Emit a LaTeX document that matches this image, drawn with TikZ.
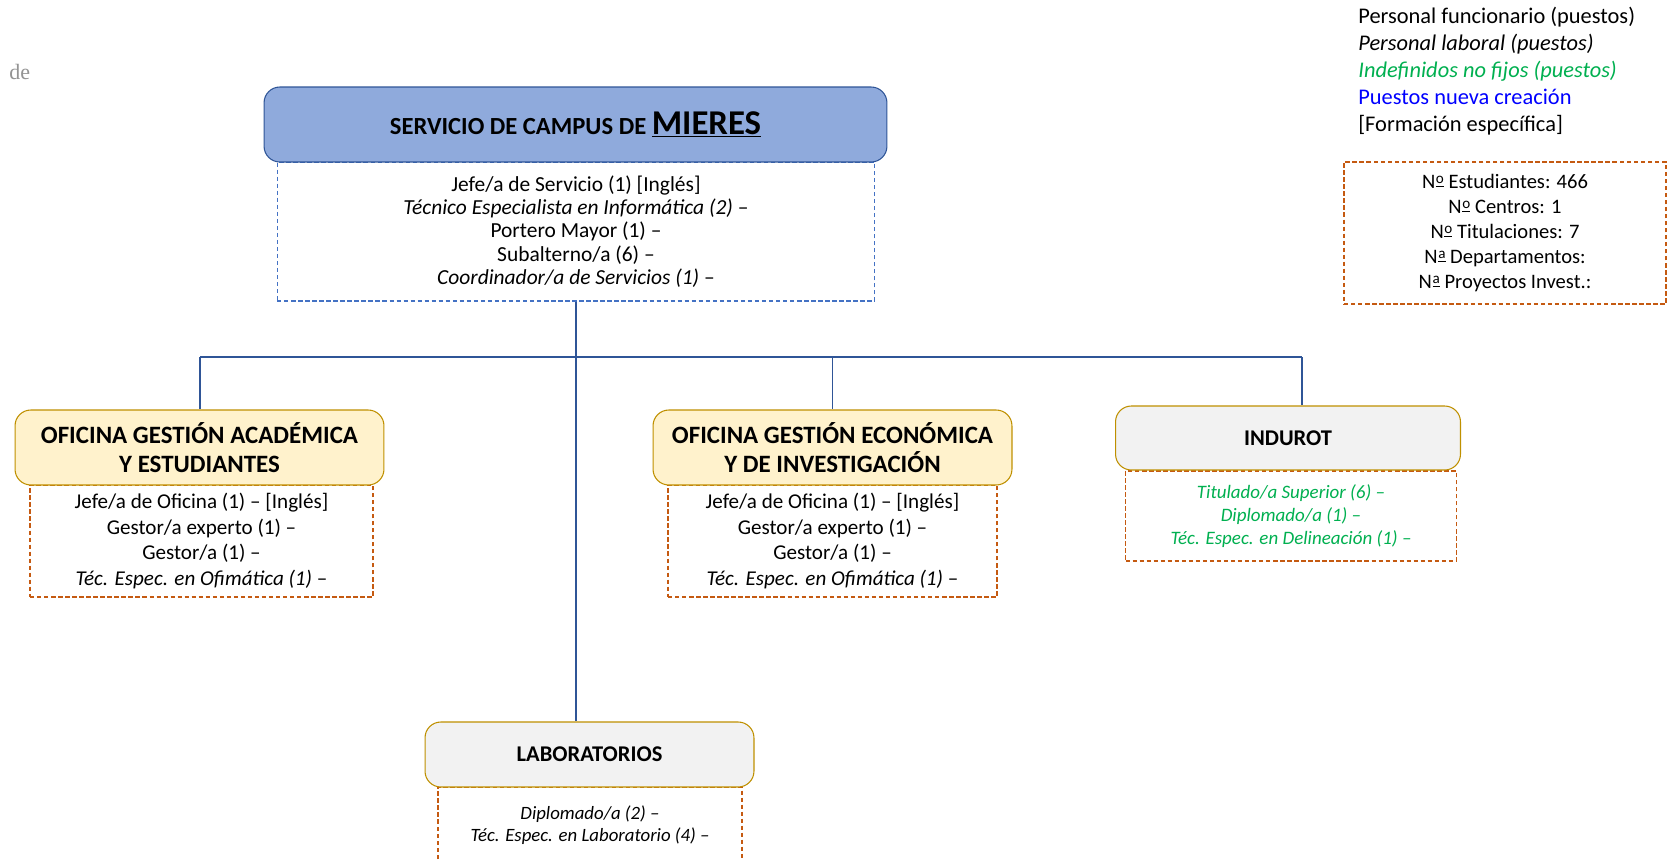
\documentclass[tikz,border=0pt]{standalone}
\usepackage{fontspec}
\setmainfont{Carlito}
\newfontfamily\cutserif{Liberation Serif}
\usetikzlibrary{positioning}
\definecolor{servfill}{RGB}{143,170,220}
\definecolor{servline}{RGB}{47,85,151}
\definecolor{officefill}{RGB}{255,242,204}
\definecolor{goldline}{RGB}{191,144,0}
\definecolor{unitfill}{RGB}{242,242,242}
\definecolor{staffblue}{RGB}{68,114,196}
\definecolor{stafforange}{RGB}{197,90,17}
\definecolor{indefgreen}{RGB}{0,176,80}
\definecolor{newblue}{RGB}{0,0,255}
\newcommand{\ordo}{N\kern0.4pt\raisebox{0.5ex}{\fontsize{8.6}{9}\selectfont\underline{o}}}
\newcommand{\orda}{N\kern0.4pt\raisebox{0.5ex}{\fontsize{8.6}{9}\selectfont\underline{a}}}
\begin{document}
\begin{tikzpicture}[
    x=0.02cm,
    y=-0.02cm,
    servbox/.style={draw=servline, fill=servfill, rounded corners=9pt, line width=0.6pt, minimum width=12.46cm, minimum height=1.5cm},
    officebox/.style={draw=goldline, fill=officefill, rounded corners=9pt, line width=0.6pt, minimum height=1.5cm, align=center, font=\fontsize{14.2}{16.5}\selectfont\bfseries},
    unitbox/.style={draw=goldline, fill=unitfill, rounded corners=9pt, line width=0.6pt, minimum height=1.3cm, font=\fontsize{12.8}{14}\selectfont\bfseries},
    staffbox/.style={draw=stafforange, line width=0.8pt, dash pattern=on 2.5pt off 1.5pt, align=center, inner sep=0pt, font=\fontsize{12}{14.5}\selectfont},
    smallstaff/.style={align=center, inner sep=0pt, font=\fontsize{10.7}{12.8}\selectfont\itshape},
    link/.style={draw=servline, line width=0.6pt}
]
\path[use as bounding box, fill=white] (0,0) rectangle (1670,859);

\node[anchor=west, text=black!42, inner sep=0pt, font=\cutserif\fontsize{12.5}{14}\selectfont] (cut) at (9,72) {de};

\node[anchor=west, align=left, inner sep=0pt, font=\fontsize{12.75}{15.3}\selectfont] (key) at (1358,71) {Personal funcionario (puestos)\\
\textit{Personal laboral (puestos)}\\
\textcolor{indefgreen}{\textit{Indefinidos no fijos (puestos)}}\\
\textcolor{newblue}{Puestos nueva creación}\\
{[}Formación específica{]}};

\node[staffbox, minimum width=6.44cm, minimum height=2.84cm, font=\fontsize{11.7}{14.2}\selectfont] (stats) at (1505,233) {\ordo{} Estudiantes: 466\\
\ordo{} Centros: 1\\
\ordo{} Titulaciones: 7\\
\orda{} Departamentos:\\
\orda{} Proyectos Invest.:};

\node[staffbox, draw=staffblue, line width=0.6pt, minimum width=11.96cm, minimum height=2.78cm, font=\fontsize{12.2}{13.3}\selectfont] (servstaff) at (576,231.5) {Jefe/a de Servicio (1) [Inglés]\\
\textit{Técnico Especialista en Informática (2)} –\\
Portero Mayor (1) –\\
Subalterno/a (6) –\\
\textit{Coordinador/a de Servicios (1)} –};
\node[servbox] (servhead) at (575.5,124.5) {\fontsize{14}{16}\selectfont\bfseries SERVICIO DE CAMPUS DE {\fontsize{19.8}{22}\selectfont\underline{MIERES}}};

\node[staffbox, minimum width=6.86cm, minimum height=2.24cm] (acadstaff) at (201.5,541) {Jefe/a de Oficina (1) – [Inglés]\\
Gestor/a experto (1) –\\
Gestor/a (1) –\\
\textit{Téc. Espec. en Ofimática (1)} –};
\node[officebox, minimum width=7.38cm] (acadhead) at (199.5,447.5) {OFICINA GESTIÓN ACADÉMICA\\ Y ESTUDIANTES};

\node[staffbox, minimum width=6.58cm, minimum height=2.24cm] (econstaff) at (832.5,541) {Jefe/a de Oficina (1) – [Inglés]\\
Gestor/a experto (1) –\\
Gestor/a (1) –\\
\textit{Téc. Espec. en Ofimática (1)} –};
\node[officebox, minimum width=7.18cm] (econhead) at (832.5,447.5) {OFICINA GESTIÓN ECONÓMICA\\ Y DE INVESTIGACIÓN};

\node[staffbox, minimum width=6.62cm, minimum height=1.8cm, font=\fontsize{10.8}{13.3}\selectfont\itshape, text=indefgreen] (indstaff) at (1291,516) {Titulado/a Superior (6) –\\
Diplomado/a (1) –\\
Téc. Espec. en Delineación (1) –};
\node[unitbox, minimum width=6.9cm, minimum height=1.28cm] (indhead) at (1288,438) {INDUROT};

\draw[staffbox] (438,859) |- (742,787) -- (742,859);
\node[smallstaff] (labstaff) at (590,825) {Diplomado/a (2) –\\ Téc. Espec. en Laboratorio (4) –};
\node[unitbox, minimum width=6.58cm] (labhead) at (589.5,754.5) {LABORATORIOS};

\coordinate (busl) at (200,357);
\coordinate (busm) at (832.5,357);
\coordinate (busr) at (1302,357);
\draw[link] (servstaff.south) -- (servstaff.south |- labhead.north);
\draw[link] (busl) -- (busr);
\draw[link] (busl) -- (busl |- acadhead.north);
\draw[link] (busm) -- (econhead.north);
\draw[link] (busr) -- (busr |- indhead.north);
\end{tikzpicture}
\end{document}
